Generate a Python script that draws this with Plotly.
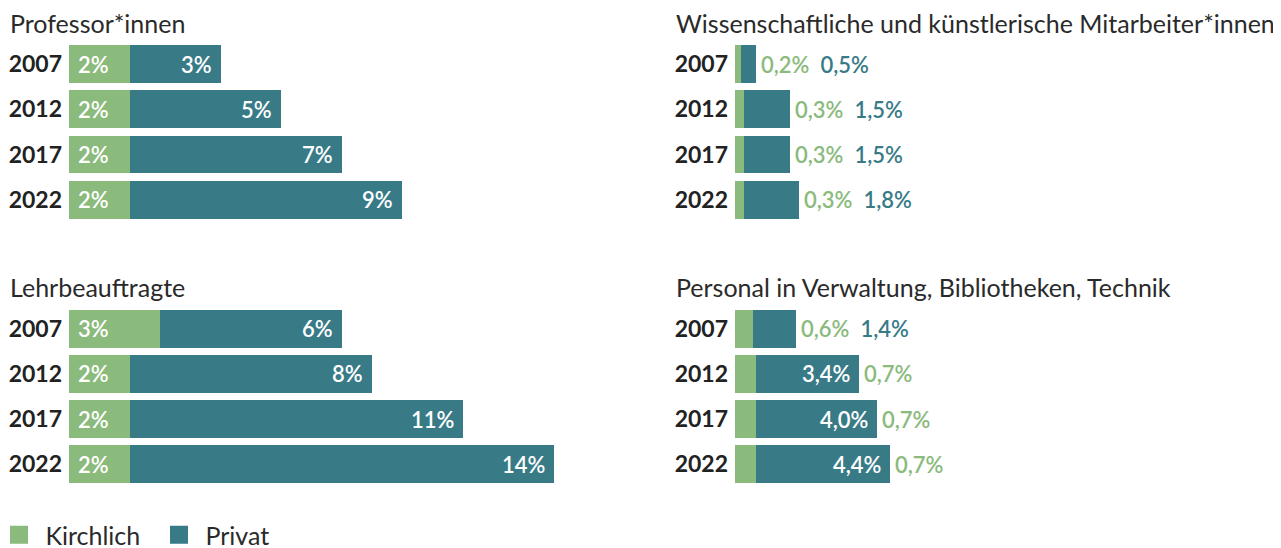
import plotly.graph_objects as go

# ---------------- data ----------------
years = ["2007", "2012", "2017", "2022"]

title_prof = "Professor*innen"
title_lehr = "Lehrbeauftragte"
title_wiss = "Wissenschaftliche und künstlerische Mitarbeiter*innen"
title_verw = "Personal in Verwaltung, Bibliotheken, Technik"

prof_kirchlich = [2, 2, 2, 2]
prof_privat = [3, 5, 7, 9]
lehr_kirchlich = [3, 2, 2, 2]
lehr_privat = [6, 8, 11, 14]
wiss_kirchlich = [0.2, 0.3, 0.3, 0.3]
wiss_privat = [0.5, 1.5, 1.5, 1.8]
verw_kirchlich = [0.6, 0.7, 0.7, 0.7]
verw_privat = [1.4, 3.4, 4.0, 4.4]

series_names = ["Kirchlich", "Privat"]

# ---------------- style ----------------
OFF = 8                      # page body margin of the browser
W, H = 1281 - OFF, 550
GREEN = "#8aba7c"
TEAL = "#387b87"
TEXT = "#222222"
FONT = "Lato, 'Noto Sans', sans-serif"
PX_PER_UNIT = 30.3

TITLE_SIZE = 25
YEAR_SIZE = 23
LABEL_SIZE = 22


def px_x(p):
    return (p - OFF) / W


def px_y(p):
    return 1 - (p - OFF) / H


def fmt(v, decimals):
    if decimals == 0:
        return f"{v:.0f}%"
    return f"{v:.{decimals}f}%".replace(".", ",")


panels = [
    dict(title=title_prof, k=prof_kirchlich, p=prof_privat, left=69, top=41.5, xmax=19, dec=0,
         mode=["inside"] * 4),
    dict(title=title_lehr, k=lehr_kirchlich, p=lehr_privat, left=69, top=306, xmax=19, dec=0,
         mode=["inside"] * 4),
    dict(title=title_wiss, k=wiss_kirchlich, p=wiss_privat, left=735, top=41.5, xmax=17, dec=1,
         mode=["outside"] * 4),
    dict(title=title_verw, k=verw_kirchlich, p=verw_privat, left=735, top=306, xmax=17, dec=1,
         mode=["outside", "mixed", "mixed", "mixed"]),
]

ROW_H = 45.2
fig = go.Figure()
annotations = []
layout_axes = {}

for i, pn in enumerate(panels):
    n = i + 1
    xa = "x" if n == 1 else f"x{n}"
    ya = "y" if n == 1 else f"y{n}"
    xkey = "xaxis" if n == 1 else f"xaxis{n}"
    ykey = "yaxis" if n == 1 else f"yaxis{n}"

    fig.add_trace(go.Bar(x=pn["k"], y=years, orientation="h", marker_color=GREEN,
                         marker_line_width=0, name=series_names[0], showlegend=False,
                         xaxis=xa, yaxis=ya, hoverinfo="skip"))
    fig.add_trace(go.Bar(x=pn["p"], y=years, orientation="h", marker_color=TEAL,
                         marker_line_width=0, name=series_names[1], showlegend=False,
                         xaxis=xa, yaxis=ya, hoverinfo="skip"))

    x0 = pn["left"]
    x1 = x0 + pn["xmax"] * PX_PER_UNIT
    y_top = pn["top"]
    y_bot = y_top + ROW_H * len(years)
    layout_axes[xkey] = dict(domain=[px_x(x0), px_x(x1)], range=[0, pn["xmax"]],
                             visible=False, anchor=ya, fixedrange=True)
    layout_axes[ykey] = dict(domain=[px_y(y_bot), px_y(y_top)], type="category",
                             categoryorder="array", categoryarray=years,
                             range=[len(years) - 0.5, -0.5], anchor=xa,
                             tickvals=years, ticktext=[f"<b>{y}</b>" for y in years],
                             tickfont=dict(size=YEAR_SIZE, color=TEXT, family=FONT),
                             ticks="", showline=False, showgrid=False, zeroline=False,
                             ticklabelstandoff=6, fixedrange=True, automargin=False)

    # panel title
    annotations.append(dict(text=pn["title"], xref="paper", yref="paper",
                            x=px_x(pn["left"] - 61), y=px_y(y_top - 19),
                            xanchor="left", yanchor="middle", showarrow=False,
                            font=dict(size=TITLE_SIZE, color="#2a2a2a", family=FONT)))

    # value labels (category axes: annotation y is the category index)
    for j, yr in enumerate(years):
        k = pn["k"][j]
        p = pn["p"][j]
        kt = fmt(k, pn["dec"])
        pt = fmt(p, pn["dec"])
        mode = pn["mode"][j]
        lf = dict(size=LABEL_SIZE, family=FONT, weight=600)
        common = dict(y=j, xref=xa, yref=ya, yanchor="middle", showarrow=False)
        if mode == "inside":
            annotations.append(dict(common, text=kt, x=0, xanchor="left", xshift=7,
                                    font=dict(lf, color="white")))
            annotations.append(dict(common, text=pt, x=k + p, xanchor="right", xshift=-7,
                                    font=dict(lf, color="white")))
        elif mode == "outside":
            txt = (f"<span style='color:{GREEN}'>{kt}</span>\u00a0\u00a0"
                   f"<span style='color:{TEAL}'>{pt}</span>")
            annotations.append(dict(common, text=txt, x=k + p, xanchor="left", xshift=3,
                                    font=dict(lf, color=TEAL)))
        else:  # privat inside, kirchlich outside
            annotations.append(dict(common, text=pt, x=k + p, xanchor="right", xshift=-7,
                                    font=dict(lf, color="white")))
            annotations.append(dict(common, text=kt, x=k + p, xanchor="left", xshift=3,
                                    font=dict(lf, color=GREEN)))

# legend entries
for name, col in zip(series_names, [GREEN, TEAL]):
    fig.add_trace(go.Scatter(x=[None], y=[None], mode="markers", name="\u00a0" + name,
                             marker=dict(symbol="square", size=16, color=col,
                                         line=dict(color=col, width=2)),
                             xaxis="x", yaxis="y", showlegend=True, hoverinfo="skip"))

fig.update_layout(
    width=W, height=H,
    margin=dict(l=0, r=0, t=0, b=0),
    paper_bgcolor="white", plot_bgcolor="white",
    barmode="stack", bargap=0.16,
    font=dict(family=FONT, color=TEXT),
    showlegend=True,
    legend=dict(orientation="h", x=0, xanchor="left", y=0, yanchor="bottom",
                indentation=-9,
                font=dict(size=25, color="#2a2a2a", family=FONT), entrywidth=124,
                itemclick=False, itemdoubleclick=False, traceorder="normal"),
    annotations=annotations,
    **layout_axes,
)

fig.write_html("out.html")
